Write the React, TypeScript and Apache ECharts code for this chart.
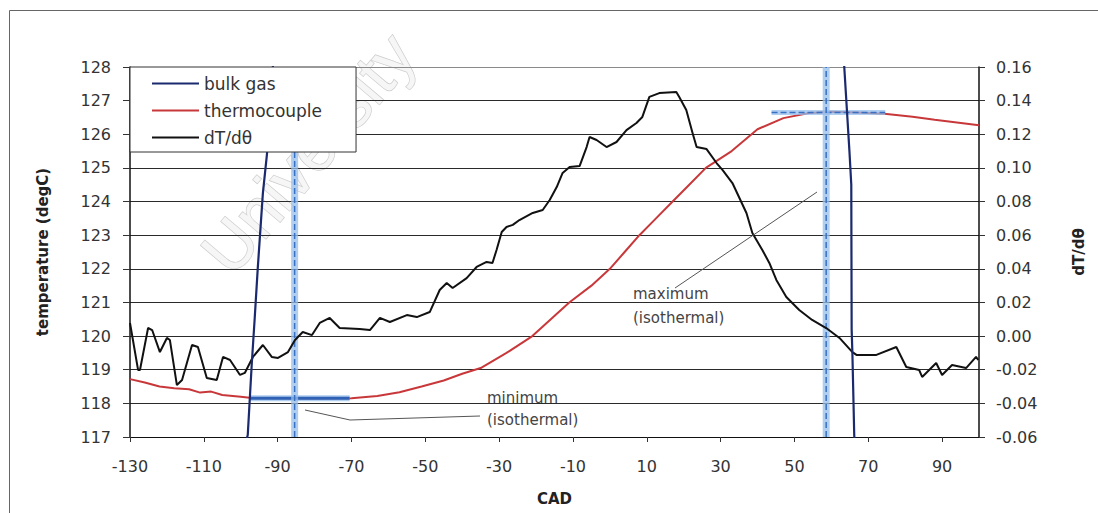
import React, { useEffect, useRef } from "react";
import * as echarts from "echarts";

// Crank angle (CAD) ticks on the x axis
const cadTicks = [-130, -110, -90, -70, -50, -30, -10, 10, 30, 50, 70, 90];

// Thermocouple temperature (degC) vs CAD
const thermoCad = [
  -130, -126, -122, -118, -114, -111, -108, -105, -100, -97, -90, -80, -70, -63, -57, -51, -45, -40, -35,
  -28, -21, -16, -11, -5, 0, 4, 8, 12.5, 17, 21.5, 26, 33, 40, 47, 54, 60, 67, 75, 82, 88, 94, 100,
];
const thermoTemp = [
  118.72, 118.62, 118.5, 118.45, 118.42, 118.32, 118.35, 118.25, 118.2, 118.16, 118.15, 118.14, 118.15,
  118.22, 118.33, 118.5, 118.68, 118.88, 119.05, 119.5, 120.0, 120.5, 121.0, 121.5, 122.0, 122.5, 123.0,
  123.5, 124.0, 124.5, 125.0, 125.5, 126.15, 126.48, 126.63, 126.67, 126.65, 126.6, 126.52, 126.43,
  126.35, 126.27,
];

// Bulk gas temperature (degC) vs CAD, leaves the plotted range between the two crossings
const bulkCad = [-99, -98.1, -97, -96.2, -95.4, -94, -92.9, -91.3, -90.8, 63.2, 63.5, 64.9, 65.4, 65.5, 65.7, 66.2, 66.5];
const bulkTemp = [116.7, 117.06, 119.2, 120.56, 122.0, 124.25, 125.4, 128.0, 129.0, 129.0, 128.0, 125.5, 124.5, 120.2, 119.5, 117.06, 116.5];

// Temperature rate dT/dθ vs CAD (right axis)
const dtCad = [
  -130, -127.8, -127.3, -125.1, -124, -121.9, -120, -119.2, -117.3, -115.9, -113.2, -111.6, -109.2, -106.5,
  -104.8, -102.9, -100.2, -98.9, -96.7, -94, -91.6, -89.9, -87.2, -85.3, -83.2, -80.7, -78.6, -75.9, -73.2,
  -67.8, -65, -62.3, -59.6, -55, -52.3, -48.8, -46.1, -44.2, -42.6, -38.8, -36.1, -33.4, -31.8, -30.7,
  -29.3, -28, -26.3, -24.5, -20.9, -18.2, -16.3, -14.4, -12.8, -10.9, -8.2, -6.3, -5.5, -3.6, -0.9, 1.8,
  4.5, 7.2, 8.8, 10.7, 13.4, 18, 18.8, 20.7, 22.4, 23.5, 26.2, 28.9, 30.5, 33.2, 37, 38.6, 41.3, 43.2,
  45.1, 47.8, 51.3, 54.8, 58.6, 62.2, 65.7, 66.8, 72.2, 77.6, 80.3, 83.8, 84.6, 88.4, 90, 92.7, 96.5,
  99.2, 99.8,
];
const dtValue = [
  0.0078, -0.0202, -0.0202, 0.0048, 0.0036, -0.0095, -0.0011, -0.0023, -0.0291, -0.0261, -0.0053, -0.0065,
  -0.0249, -0.0261, -0.0124, -0.0142, -0.0231, -0.0219, -0.0124, -0.0053, -0.0124, -0.013, -0.0095,
  -0.0023, 0.0024, 0.0006, 0.0078, 0.0108, 0.0048, 0.0042, 0.0036, 0.0108, 0.0084, 0.0125, 0.0113, 0.0143,
  0.0274, 0.0316, 0.0286, 0.0345, 0.0411, 0.0441, 0.0435, 0.0512, 0.0619, 0.0649, 0.0661, 0.069, 0.0732,
  0.075, 0.0809, 0.0886, 0.097, 0.1005, 0.1011, 0.1124, 0.1184, 0.1166, 0.1124, 0.1154, 0.1225, 0.1267,
  0.1303, 0.1422, 0.1445, 0.1451, 0.1422, 0.1344, 0.1208, 0.1124, 0.1112, 0.1029, 0.0988, 0.091, 0.0732,
  0.0613, 0.0512, 0.0435, 0.0334, 0.0232, 0.0155, 0.0096, 0.0048, -0.0011, -0.0095, -0.0112, -0.0112,
  -0.0065, -0.0184, -0.0202, -0.0243, -0.016, -0.0231, -0.0172, -0.019, -0.0124, -0.0142,
];

// Isothermal markers: [cad of vertical marker, temperature, horizontal start, horizontal end]
const isothermMin = [-85.4, 118.15, -97.5, -70.5];
const isothermMax = [58.6, 126.65, 43.8, 74.6];

const TEMP_MIN = 117;
const TEMP_MAX = 128;

const FONT = "'DejaVu Sans', 'Liberation Sans', sans-serif";

const pairs = (xs: number[], ys: number[]) => xs.map((x, i) => [x, ys[i]]);

function markSeries(name: string, data: number[][], color: string, width: number, type: string = "solid") {
  return {
    name,
    type: "line",
    data,
    symbol: "none",
    silent: true,
    yAxisIndex: 0,
    lineStyle: { color, width, type },
    z: 3,
  };
}

export default function App() {
  const ref = useRef<HTMLDivElement>(null);

  useEffect(() => {
    if (!ref.current) return;
    const chart = echarts.init(ref.current, null, { renderer: "svg" });

    const gridColors = Array.from({ length: TEMP_MAX - TEMP_MIN + 1 }, (_, i) =>
      i === TEMP_MAX - TEMP_MIN ? "#8a8a8a" : "#2a2a2a"
    );

    const band = "rgba(150,190,235,0.75)";
    const core = "#3a70c2";

    chart.setOption({
      animation: false,
      backgroundColor: "#ffffff",
      grid: { left: 130, right: 119, top: 67, bottom: 76, containLabel: false, outerBoundsMode: "none" },
      legend: {
        data: ["bulk gas", "thermocouple", "dT/dθ"],
        orient: "vertical",
        left: 130,
        top: 67,
        padding: [8, 34, 6, 22],
        itemGap: 10,
        itemWidth: 47,
        itemHeight: 2,
        icon: "rect",
        backgroundColor: "#ffffff",
        borderColor: "#333",
        borderWidth: 1,
        z: 10,
        textStyle: { fontFamily: FONT, fontSize: 17, color: "#333", lineHeight: 17 },
      },
      xAxis: {
        type: "value",
        min: -130,
        max: 100,
        interval: 10,
        name: "CAD",
        nameLocation: "middle",
        nameGap: 54,
        nameTextStyle: { fontFamily: FONT, fontSize: 15, fontWeight: "bold", color: "#222" },
        axisLine: { show: true, onZero: false, lineStyle: { color: "#111", width: 1 } },
        axisTick: { show: true, customValues: cadTicks, length: 5, lineStyle: { color: "#333" } },
        axisLabel: { customValues: cadTicks, margin: 21, fontFamily: FONT, fontSize: 16, color: "#333" },
        splitLine: { show: false },
      },
      yAxis: [
        {
          type: "value",
          position: "left",
          min: TEMP_MIN,
          max: TEMP_MAX,
          interval: 1,
          name: "temperature (degC)",
          nameLocation: "middle",
          nameRotate: 90,
          nameGap: 80,
          nameTextStyle: { fontFamily: FONT, fontSize: 15, fontWeight: "bold", color: "#222" },
          axisLine: { show: true, onZero: false, lineStyle: { color: "#111", width: 1.5 } },
          axisTick: { show: true, length: 7, lineStyle: { color: "#333" } },
          axisLabel: { margin: 19, fontFamily: FONT, fontSize: 16, color: "#333" },
          splitLine: { show: true, lineStyle: { color: gridColors, width: 1 } },
        },
        {
          type: "value",
          position: "right",
          min: -0.06,
          max: 0.16,
          interval: 0.02,
          name: "dT/dθ",
          nameLocation: "middle",
          nameRotate: 90,
          nameGap: 92,
          nameTextStyle: { fontFamily: FONT, fontSize: 15, fontWeight: "bold", color: "#222" },
          axisLine: { show: true, onZero: false, lineStyle: { color: "#111", width: 1.5 } },
          axisTick: { show: true, length: 6, lineStyle: { color: "#333" } },
          axisLabel: {
            margin: 17,
            fontFamily: FONT,
            fontSize: 16,
            color: "#333",
            formatter: (v: number) => (Math.abs(v) < 1e-9 ? "0.00" : v.toFixed(2)),
          },
          splitLine: { show: false },
        },
      ],
      series: [
        {
          name: "thermocouple",
          type: "line",
          data: pairs(thermoCad, thermoTemp),
          yAxisIndex: 0,
          symbol: "none",
          lineStyle: { color: "#c8383a", width: 2 },
          itemStyle: { color: "#c8383a" },
          z: 2,
        },
        // isothermal minimum markers
        markSeries("min-h", [[isothermMin[2], isothermMin[1]], [isothermMin[3], isothermMin[1]]], band, 6),
        markSeries("min-h-core", [[isothermMin[2], isothermMin[1]], [isothermMin[3], isothermMin[1]]], "#2f62b5", 3),
        markSeries("min-v", [[isothermMin[0], TEMP_MIN], [isothermMin[0], TEMP_MAX]], band, 7),
        markSeries("min-v-core", [[isothermMin[0], TEMP_MIN], [isothermMin[0], TEMP_MAX]], core, 1.5, "dashed"),
        // isothermal maximum markers
        markSeries("max-h", [[isothermMax[2], isothermMax[1]], [isothermMax[3], isothermMax[1]]], band, 5),
        markSeries("max-h-core", [[isothermMax[2], isothermMax[1]], [isothermMax[3], isothermMax[1]]], core, 1.5, "dashed"),
        markSeries("max-v", [[isothermMax[0], TEMP_MIN], [isothermMax[0], TEMP_MAX]], band, 7),
        markSeries("max-v-core", [[isothermMax[0], TEMP_MIN], [isothermMax[0], TEMP_MAX]], core, 1.5, "dashed"),
        {
          name: "dT/dθ",
          type: "line",
          data: pairs(dtCad, dtValue),
          yAxisIndex: 1,
          symbol: "none",
          lineStyle: { color: "#111111", width: 2 },
          itemStyle: { color: "#111111" },
          z: 4,
        },
        {
          name: "bulk gas",
          type: "line",
          data: pairs(bulkCad, bulkTemp),
          yAxisIndex: 0,
          symbol: "none",
          lineStyle: { color: "#1b2a6e", width: 2.2 },
          itemStyle: { color: "#1b2a6e" },
          z: 5,
        },
      ],
      graphic: [
        {
          type: "text",
          x: 240,
          y: 285,
          rotation: 0.87,
          z: -10,
          silent: true,
          style: {
            text: "University",
            font: "66px 'Liberation Sans', sans-serif",
            fill: "#f6f6f6",
            stroke: "#cdcdcd",
            lineWidth: 1.4,
            align: "left",
            verticalAlign: "bottom",
          },
        },
        {
          type: "rect",
          z: -5,
          silent: true,
          shape: { x: 9.5, y: 10.5, width: 1200, height: 600 },
          style: { fill: "none", stroke: "#666", lineWidth: 1 },
        },
        {
          type: "polyline",
          z: 6,
          silent: true,
          shape: { points: [[305, 410], [350, 420], [480, 416]] },
          style: { fill: "none", stroke: "#555", lineWidth: 1 },
        },
        {
          type: "text",
          x: 487,
          y: 398,
          z: 6,
          style: { text: "minimum", font: `15px ${FONT}`, fill: "#444", align: "left", verticalAlign: "middle" },
        },
        {
          type: "text",
          x: 487,
          y: 420,
          z: 6,
          style: { text: "(isothermal)", font: `15px ${FONT}`, fill: "#444", align: "left", verticalAlign: "middle" },
        },
        {
          type: "polyline",
          z: 6,
          silent: true,
          shape: { points: [[675, 288], [817, 192]] },
          style: { fill: "none", stroke: "#555", lineWidth: 1 },
        },
        {
          type: "text",
          x: 633,
          y: 294,
          z: 6,
          style: { text: "maximum", font: `15px ${FONT}`, fill: "#444", align: "left", verticalAlign: "middle" },
        },
        {
          type: "text",
          x: 633,
          y: 318,
          z: 6,
          style: { text: "(isothermal)", font: `15px ${FONT}`, fill: "#444", align: "left", verticalAlign: "middle" },
        },
      ],
    });

    return () => chart.dispose();
  }, []);

  return <div ref={ref} style={{ position: "fixed", left: 0, top: 0, width: 1098, height: 513 }} />;
}
